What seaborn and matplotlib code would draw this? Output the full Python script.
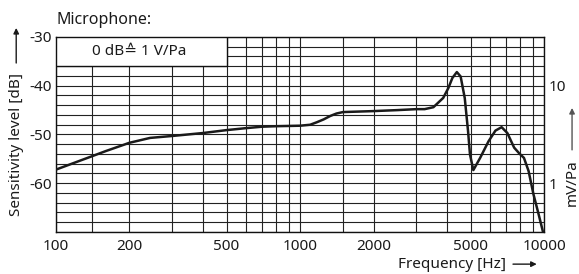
import numpy as np
import pandas as pd
import seaborn as sns
import matplotlib.pyplot as plt
from matplotlib.patches import Rectangle

# %% data
freq = [100, 138, 160, 200, 243, 300, 400, 500, 600, 700, 800, 1000,
        1100, 1170, 1250, 1330, 1410, 1500, 2000, 2500, 3000, 3240, 3520,
        3860, 4050, 4210, 4390, 4550, 4730, 4880, 4970, 5130, 5470, 5920,
        6320, 6700, 7070, 7540, 7920, 8270, 8640, 9040, 9490, 9900]
level = [-57.2, -54.6, -53.4, -51.7, -50.7, -50.3, -49.7, -49.1, -48.7,
         -48.4, -48.3, -48.2, -48.0, -47.5, -46.9, -46.2, -45.7, -45.4,
         -45.2, -45.0, -44.8, -44.8, -44.4, -42.5, -40.5, -38.4, -37.2,
         -38.1, -42.5, -49.3, -54.1, -57.3, -54.8, -51.4, -49.2, -48.5,
         -49.7, -52.7, -53.9, -54.8, -57.5, -62.2, -66.3, -70.0]

x_major = [100, 200, 500, 1000, 2000, 5000, 10000]
x_minor = [140, 300, 400, 600, 700, 800, 900, 1500, 3000, 4000,
           6000, 7000, 8000, 9000]
y_major = [-60, -50, -40, -30]
y_major_labels = ['-60', '-50', '-40', '-30']
right_ticks = [-40, -60]
right_labels = ['10', '1']

df = pd.DataFrame({'freq': freq, 'level': level})

# %% plot
sns.set_theme(style='white')
plt.rcParams['font.family'] = ['Noto Sans', 'DejaVu Sans']
plt.rcParams['axes.unicode_minus'] = False
fs = 11

fig = plt.figure(figsize=(5.79, 2.74), dpi=100)
ax = fig.add_axes([0.0967, 0.1533, 0.843, 0.7117])

sns.lineplot(df, x='freq', y='level', ax=ax, color='#1a1a1a',
             linewidth=1.8, zorder=4)

ax.set_xscale('log')
ax.set_xlim(100, 10000)
ax.set_ylim(-70, -30)

ax.set_xticks(x_major)
ax.set_xticklabels([str(v) for v in x_major])
ax.set_xticks(x_minor, minor=True)
ax.set_yticks(y_major)
ax.set_yticklabels(y_major_labels)
ax.set_yticks(np.arange(-70, -30, 2), minor=True)
ax.tick_params(which='both', length=0, labelsize=fs, colors='#1a1a1a')
ax.tick_params(axis='y', pad=3)
ax.tick_params(axis='x', pad=5)
ax.xaxis.set_minor_formatter(plt.NullFormatter())

ax.grid(True, which='both', color='#222222', linewidth=0.8)
ax.set_axisbelow(True)
for s in ax.spines.values():
    s.set_color('#111111')
    s.set_linewidth(1.0)
ax.set_xlabel('')
ax.set_ylabel('')

# reference box
ax.add_patch(Rectangle((100, -36), 400, 6, facecolor='white',
                       edgecolor='#111111', linewidth=1.0, zorder=3))
ax.text(220, -33, '0 dB\u2259 1 V/Pa', ha='center', va='center',
        fontsize=fs, color='#1a1a1a', zorder=5)

# right scale in mV/Pa
ax2 = ax.twinx()
ax2.set_ylim(-70, -30)
ax2.set_yticks(right_ticks)
ax2.set_yticklabels(right_labels)
ax2.tick_params(length=0, labelsize=fs, pad=3, colors='#1a1a1a')
ax2.grid(False)
for s in ax2.spines.values():
    s.set_visible(False)

# labels and arrows
fig.text(0.098, 0.927, 'Microphone:', ha='left', va='center',
         fontsize=11.5, color='#1a1a1a')
fig.text(0.029, 0.474, 'Sensitivity level [dB]', rotation=90,
         ha='center', va='center', fontsize=fs, color='#1a1a1a')
fig.text(0.874, 0.036, 'Frequency [Hz]', ha='right', va='center',
         fontsize=fs, color='#1a1a1a')
fig.text(0.988, 0.332, 'mV/Pa', rotation=90, ha='center', va='center',
         fontsize=fs, color='#1a1a1a')

arrow = dict(arrowstyle='-|>', color='#1a1a1a', lw=1.0,
             mutation_scale=8, shrinkA=0, shrinkB=0)
ax.annotate('', xy=(0.028, 0.898), xytext=(0.028, 0.770),
            xycoords='figure fraction', arrowprops=arrow)
ax.annotate('', xy=(0.927, 0.036), xytext=(0.886, 0.036),
            xycoords='figure fraction', arrowprops=arrow)
ax.annotate('', xy=(0.988, 0.606), xytext=(0.988, 0.453),
            xycoords='figure fraction',
            arrowprops=dict(arrow, color='#555555'))

fig.savefig('out.png', dpi=100)
